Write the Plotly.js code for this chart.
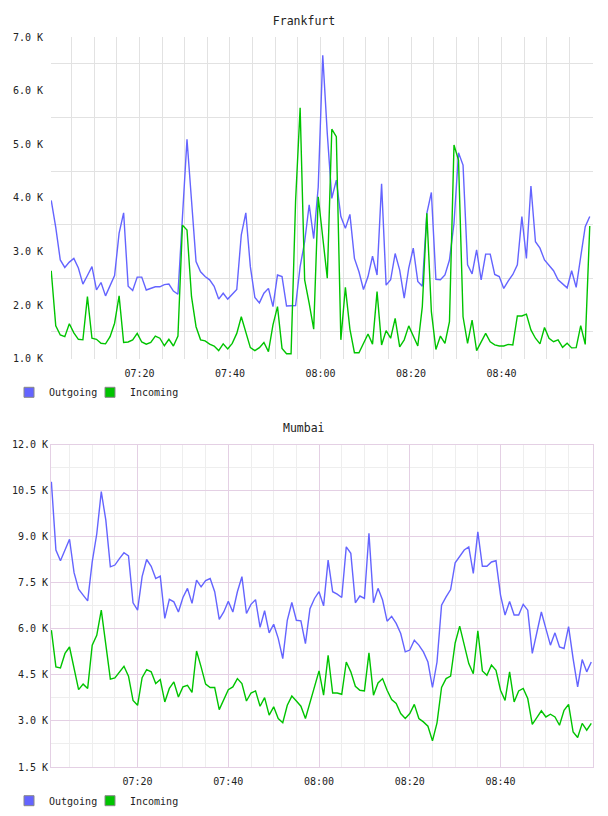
<!DOCTYPE html>
<html>
<head>
<meta charset="utf-8">
<script src="https://cdn.plot.ly/plotly-3.0.1.min.js"></script>
<style>html,body{margin:0;padding:0;background:#fff;}#chart{width:608px;height:816px;}</style>
</head>
<body>
<div id="chart"></div>
<script>
// ---------- data (1-minute samples) ----------
const fraStart = '07:00:30';
const mumStart = '07:01:00';

const fraOutgoing = [3950,3450,2840,2700,2800,2870,2690,2390,2550,2715,2280,2420,2170,2350,2550,3340,3720,2350,2270,2520,
  2520,2280,2310,2340,2340,2380,2390,2260,2200,3700,5090,3950,2810,2620,2530,2470,2350,2110,2220,2110,
  2200,2290,3310,3720,2715,2140,2040,2220,2310,1970,2560,2530,1980,1990,1990,2715,3180,3870,3240,4200,
  6660,5200,3990,4330,3650,3430,3690,2870,2620,2290,2530,2910,2560,4260,2370,2470,2960,2650,2130,2690,
  3060,2440,2350,3710,4100,2480,2470,2560,2840,3520,4840,4610,2750,2580,3030,2470,2950,2950,2570,2530,
  2310,2450,2570,2750,3650,2870,4220,3180,3060,2840,2750,2640,2470,2390,2320,2640,2330,2900,3460,3650];

const fraIncoming = [2640,1610,1440,1410,1650,1480,1360,1350,2155,1380,1360,1285,1275,1410,1660,2170,1300,1310,1350,1470,
  1310,1270,1300,1420,1380,1240,1360,1235,1420,3490,3400,2155,1595,1350,1330,1270,1235,1150,1275,1180,
  1285,1470,1780,1480,1205,1150,1205,1300,1130,1630,1970,1190,1090,1090,3950,5680,2470,2030,1550,4020,
  3200,2500,5280,5140,1350,2330,1550,1110,1110,1285,1460,1270,2250,1255,1520,1380,1750,1220,1350,1610,
  1420,1235,1970,3710,1875,1170,1420,1285,1690,4985,4705,1780,1285,1720,1150,1315,1470,1315,1255,1235,
  1235,1265,1255,1795,1795,1830,1535,1380,1275,1580,1380,1315,1350,1210,1285,1200,1205,1615,1265,3475];

const mumOutgoing = [10790,8570,8220,8590,8920,7830,7290,7100,6910,8180,9090,10470,9540,8020,8080,8290,8480,8380,6850,6610,
  7700,8260,8040,7640,7720,6340,6960,6880,6550,7020,7320,6830,7590,7370,7570,7640,7210,6310,6550,6900,
  6550,7210,7700,6500,6800,6950,6050,6590,5870,6150,5690,5030,6280,6860,6280,6260,5520,6660,6990,7210,
  6750,8240,7210,7130,7020,8670,8460,6850,7070,6990,9110,6850,7320,6940,6250,6410,6180,5850,5250,5310,
  5630,5470,5250,4920,4090,4920,6770,7040,7280,8150,8350,8570,8670,7810,9160,8040,8040,8180,8220,7100,
  6450,6890,6450,6450,6800,6610,5200,5850,6550,6010,5470,5870,5410,5360,6070,5030,4110,5000,4600,4920];

const mumIncoming = [5960,4760,4730,5200,5410,4760,4020,4200,4060,5470,5790,6610,5520,4360,4400,4600,4780,4460,3670,3510,
  4410,4670,4600,4220,4350,3620,4060,4270,3780,4110,4160,3930,5280,4760,4200,4090,4090,3370,3700,4020,
  4110,4380,4220,3650,3910,3980,3480,3760,3190,3460,3080,2940,3510,3810,3650,3480,3080,3620,4110,4630,
  3840,5140,3910,3910,3870,4920,4600,4130,4000,3980,5220,3840,4240,4380,4000,3700,3570,3240,3080,3240,
  3540,3080,2970,2830,2350,2940,4090,4380,4460,5540,6090,5520,4870,4540,5940,4630,4490,4820,4650,4000,
  3670,4600,3620,3980,4060,3730,2890,3110,3330,3130,3220,3130,2860,3350,3540,2640,2460,2920,2700,2920];

const seriesNames = ['Outgoing', 'Incoming'];
const timeLabels = ['07:20', '07:40', '08:00', '08:20', '08:40'];
const fraTickVals = [1000, 2000, 3000, 4000, 5000, 6000, 7000];
const fraTickText = ['1.0 K', '2.0 K', '3.0 K', '4.0 K', '5.0 K', '6.0 K', '7.0 K'];
const fraGridVals = [1500, 2500, 3500, 4500, 5500, 6500];
const mumTickVals = [1500, 3000, 4500, 6000, 7500, 9000, 10500, 12000];
const mumTickText = ['1.5 K', '3.0 K', '4.5 K', '6.0 K', '7.5 K', '9.0 K', '10.5 K', '12.0 K'];
const mumGridVals = [2250, 3750, 5250, 6750, 8250, 9750, 11250];

// ---------- helpers ----------
const DAY = '2024-01-01 ';
function pad(n) { return String(n).padStart(2, '0'); }
function toSec(hms) { const p = hms.split(':').map(Number); return p[0] * 3600 + p[1] * 60 + (p[2] || 0); }
function stamp(sec) { return DAY + pad(Math.floor(sec / 3600)) + ':' + pad(Math.floor(sec % 3600 / 60)) + ':' + pad(sec % 60); }
function minuteSeries(start, n) { const s = toSec(start); const out = []; for (let i = 0; i < n; i++) out.push(stamp(s + 60 * i)); return out; }

const fraTimes = minuteSeries(fraStart, fraOutgoing.length);
const mumTimes = minuteSeries(mumStart, mumOutgoing.length);
const labelVals = timeLabels.map(t => stamp(toSec(t)));
const fiveMinGrid = []; for (let m = 5; m < 120; m += 5) fiveMinGrid.push(stamp(7 * 3600 + m * 60));

const BLUE = '#6464ff', GREEN = '#00c400';
const FONT = 'DejaVu Sans Mono, monospace';

function lineTrace(x, y, color, xa, ya) {
  return { type: 'scatter', mode: 'lines', x: x, y: y, xaxis: xa, yaxis: ya,
    line: { color: color, width: 1.4 }, showlegend: false, hoverinfo: 'skip' };
}
function legendTrace(name, color, xa, ya, lg) {
  return { type: 'scatter', mode: 'markers', x: [null], y: [null], xaxis: xa, yaxis: ya, name: name,
    legend: lg, showlegend: true, hoverinfo: 'skip',
    marker: { symbol: 'square', size: 10, color: color, line: { color: '#888', width: 1 } } };
}

const traces = [
  lineTrace(fraTimes, fraOutgoing, BLUE, 'x', 'y'),
  lineTrace(fraTimes, fraIncoming, GREEN, 'x', 'y'),
  lineTrace(mumTimes, mumOutgoing, BLUE, 'x2', 'y2'),
  lineTrace(mumTimes, mumIncoming, GREEN, 'x2', 'y2'),
  legendTrace(seriesNames[0], BLUE, 'x', 'y', 'legend'),
  legendTrace(seriesNames[1], GREEN, 'x', 'y', 'legend2'),
  legendTrace(seriesNames[0], BLUE, 'x2', 'y2', 'legend3'),
  legendTrace(seriesNames[1], GREEN, 'x2', 'y2', 'legend4')
];

const GRAY = '#e2e2e2', PINK = '#e4d0e4', LIGHT = '#eeeeee';
const tickFont = { family: FONT, size: 10, color: '#222' };

function legendAt(leftPx, centerYPx) {
  return { orientation: 'h', xref: 'paper', yref: 'paper', xanchor: 'left', yanchor: 'middle',
    x: (leftPx - 51) / 542, y: (767 - centerYPx) / 730,
    font: { family: FONT, size: 10, color: '#222' }, bgcolor: 'rgba(0,0,0,0)', borderwidth: 0,
    itemwidth: 30 };
}

const layout = {
  width: 608, height: 816,
  margin: { l: 51, r: 15, t: 37, b: 49, autoexpand: false },
  paper_bgcolor: '#fff', plot_bgcolor: '#fff',
  font: { family: FONT, size: 10, color: '#222' },
  hovermode: false,
  title: { text: 'Frankfurt', font: { family: FONT, size: 11.5, color: '#222' },
    xref: 'container', x: 0.5, xanchor: 'center', yref: 'container', y: 1 - 20.7 / 816, yanchor: 'middle' },
  annotations: [{ text: 'Mumbai', showarrow: false, xref: 'paper', yref: 'paper',
    x: (303.5 - 51) / 542, y: (767 - 428.3) / 730, xanchor: 'center', yanchor: 'middle',
    font: { family: FONT, size: 11.5, color: '#222' } }],
  xaxis: { domain: [0, 1], anchor: 'y', type: 'date',
    range: [stamp(toSec('07:00:27')), stamp(toSec('09:00:13'))],
    tickmode: 'array', tickvals: labelVals, ticktext: timeLabels, tickfont: tickFont,
    showgrid: true, gridcolor: GRAY, gridwidth: 1,
    minor: { tickmode: 'array', tickvals: fiveMinGrid, showgrid: true, gridcolor: GRAY, gridwidth: 1, ticks: '' },
    ticks: 'outside', ticklen: 5, tickcolor: 'rgba(0,0,0,0)', zeroline: false, showline: false },
  yaxis: { domain: [(767 - 358.6) / 730, 1], anchor: 'x', range: [1000, 7000],
    tickmode: 'array', tickvals: fraTickVals, ticktext: fraTickText, tickfont: tickFont,
    showgrid: false,
    minor: { tickmode: 'array', tickvals: fraGridVals, showgrid: true, gridcolor: GRAY, gridwidth: 1, ticks: '' },
    ticks: 'outside', ticklen: 5, tickcolor: 'rgba(0,0,0,0)', zeroline: false, showline: false },
  xaxis2: { domain: [0, 1], anchor: 'y2', type: 'date',
    range: [stamp(toSec('07:00:55')), stamp(toSec('09:00:23'))],
    tickmode: 'array', tickvals: labelVals, ticktext: timeLabels, tickfont: tickFont,
    showgrid: true, gridcolor: PINK, gridwidth: 1,
    minor: { tickmode: 'array', tickvals: fiveMinGrid, showgrid: true, gridcolor: LIGHT, gridwidth: 1, ticks: '' },
    ticks: 'outside', ticklen: 5, tickcolor: 'rgba(0,0,0,0)', zeroline: false,
    showline: true, linecolor: PINK, linewidth: 1, mirror: true },
  yaxis2: { domain: [0, (767 - 444.7) / 730], anchor: 'x2', range: [1500, 12000],
    tickmode: 'array', tickvals: mumTickVals, ticktext: mumTickText, tickfont: tickFont,
    showgrid: true, gridcolor: PINK, gridwidth: 1,
    minor: { tickmode: 'array', tickvals: mumGridVals, showgrid: true, gridcolor: LIGHT, gridwidth: 1, ticks: '' },
    ticks: '', zeroline: false, showline: true, linecolor: PINK, linewidth: 1, mirror: true },
  legend: legendAt(9, 392.3),
  legend2: legendAt(90, 392.3),
  legend3: legendAt(9, 800.7),
  legend4: legendAt(90, 800.7)
};

Plotly.newPlot('chart', traces, layout, { staticPlot: true, displayModeBar: false });
</script>
</body>
</html>
